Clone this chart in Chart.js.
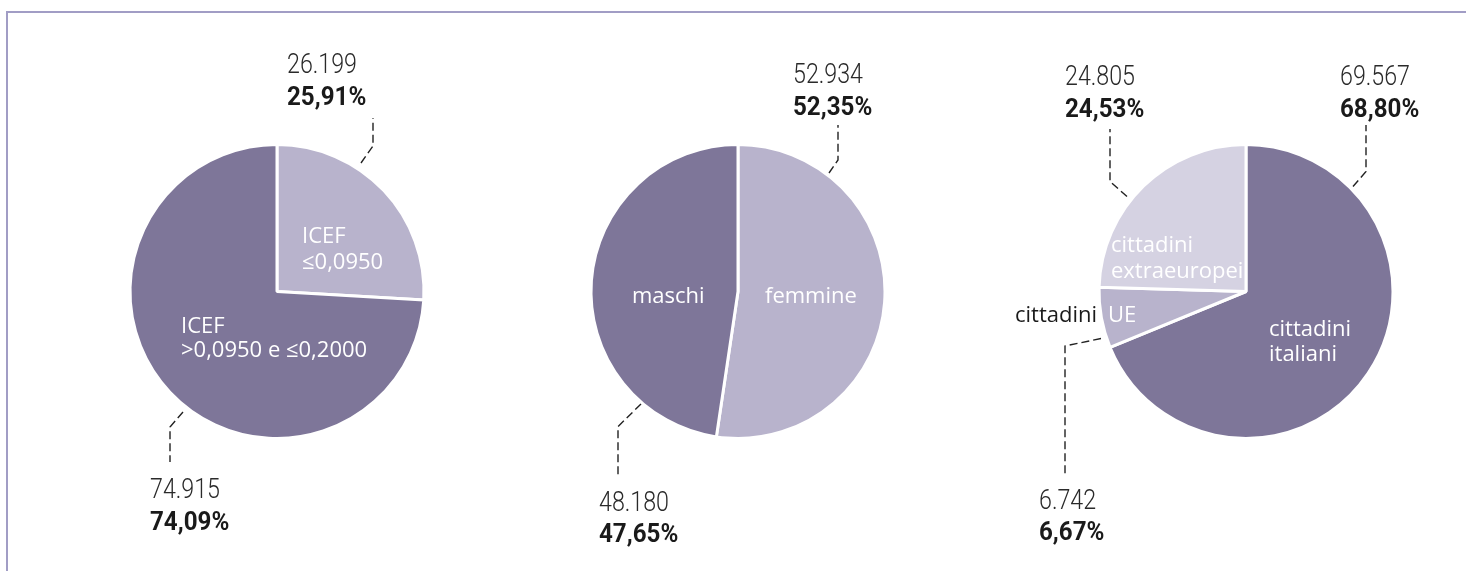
<!DOCTYPE html>
<html>
<head>
<meta charset="utf-8">
<script src="https://cdn.jsdelivr.net/npm/chart.js@4.4.1/dist/chart.umd.min.js"></script>
<style>
  html, body { margin: 0; padding: 0; background: #fff; }
  body { width: 1466px; height: 571px; position: relative; overflow: hidden; }
  #frame { position: absolute; left: 6px; top: 11px; width: 1470px; height: 570px;
           border-top: 2px solid #a19dc5; border-left: 2px solid #a19dc5; }
  .box { position: absolute; top: 0; width: 500px; height: 571px; }
</style>
</head>
<body>
<div id="frame"></div>
<div class="box" id="b1"><canvas id="c1"></canvas></div>
<div class="box" id="b2"><canvas id="c2"></canvas></div>
<div class="box" id="b3"><canvas id="c3"></canvas></div>
<script>
// ---- data ----
const icefCategories = ['ICEF ≤0,0950', 'ICEF >0,0950 e ≤0,2000'];
const icefValues = [26199, 74915];

const sessoCategories = ['femmine', 'maschi'];
const sessoValues = [52934, 48180];

const cittCategories = ['cittadini italiani', 'cittadini UE', 'cittadini extraeuropei'];
const cittValues = [69567, 6742, 24805];

// ---- styles ----
const DARK = '#7e7699', MID = '#b8b3cc', LIGHT = '#d5d2e2';
const R = 147, BW = 3, BOXW = 500, H = 571, CY = 291.5;
const numFont = 'Roboto, "Liberation Sans", sans-serif';
const inFont = '"Open Sans", "Noto Sans", sans-serif';

function fmtInt(v) { return String(v).replace(/\B(?=(\d{3})+(?!\d))/g, '.'); }
function fmtPct(v, tot) { return (v / tot * 100).toFixed(2).replace('.', ',') + '%'; }

// annotation layout per slice (offsets relative to pie centre)
const charts = [
  { id: 'c1', box: 'b1', cx: 277, labels: icefCategories, values: icefValues, colors: [MID, DARK],
    notes: [
      { leader: [[84,-128.5],[96,-145.5],[96,-173.5]], tx: 10, ty: -218.5, gap: 32,
        inner: [{ t: 'ICEF', x: 25, y: -48.5 }, { t: '≤0,0950', x: 25, y: -23 }] },
      { leader: [[-94,120.5],[-107,135.5],[-107,170.5]], tx: -127, ty: 206.5, gap: 32,
        inner: [{ t: 'ICEF', x: -96, y: 41 }, { t: '>0,0950 e ≤0,2000', x: -96, y: 65.5 }] }
    ] },
  { id: 'c2', box: 'b2', cx: 738, labels: sessoCategories, values: sessoValues, colors: [MID, DARK],
    notes: [
      { leader: [[91,-118.5],[100,-131.5],[100,-166.5]], tx: 55, ty: -208.5, gap: 31.5,
        inner: [{ t: 'femmine', x: 27, y: 11.5 }] },
      { leader: [[-97,112.5],[-120,135],[-120,183.5]], tx: -139, ty: 219, gap: 31,
        inner: [{ t: 'maschi', x: -106, y: 11.5 }] }
    ] },
  { id: 'c3', box: 'b3', cx: 1246, labels: cittCategories, values: cittValues, colors: [DARK, MID, LIGHT],
    notes: [
      { leader: [[107,-105],[120,-120],[120,-166.5]], tx: 94, ty: -207, gap: 32.5,
        inner: [{ t: 'cittadini', x: 23, y: 44 }, { t: 'italiani', x: 23, y: 69 }] },
      { leader: [[-145,47],[-181,54.5],[-181,182.5]], tx: -207, ty: 217, gap: 31.5,
        inner: [{ t: 'UE', x: -138, y: 30 }, { t: 'cittadini', x: -231, y: 30, color: '#1a1a1a' }] },
      { leader: [[-119,-95],[-136,-110],[-136,-162.5]], tx: -181, ty: -207, gap: 32.5,
        inner: [{ t: 'cittadini', x: -135, y: -40 }, { t: 'extraeuropei', x: -135, y: -14 }] }
    ] }
];

function condensedText(ctx, text, x, y, sx) {
  ctx.save();
  ctx.translate(x, y);
  ctx.scale(sx, 1);
  ctx.fillText(text, 0, 0);
  ctx.restore();
}

const annotPlugin = {
  id: 'annot',
  afterDraw(chart, args, opts) {
    const ctx = chart.ctx;
    const meta = chart.getDatasetMeta(0);
    const arc0 = meta.data[0];
    const cx = arc0.x, cy = arc0.y;
    const vals = chart.data.datasets[0].data;
    const tot = vals.reduce((a, b) => a + b, 0);
    opts.notes.forEach((n, i) => {
      // leader line
      ctx.save();
      ctx.strokeStyle = '#222';
      ctx.lineWidth = 1.4;
      ctx.setLineDash([8, 4]);
      ctx.beginPath();
      n.leader.forEach((p, k) => {
        if (k === 0) ctx.moveTo(cx + p[0], cy + p[1]); else ctx.lineTo(cx + p[0], cy + p[1]);
      });
      ctx.stroke();
      ctx.restore();
      // value + percent
      ctx.save();
      ctx.textAlign = 'left';
      ctx.textBaseline = 'alphabetic';
      ctx.fillStyle = '#2a2a2a';
      ctx.font = '300 28px ' + numFont;
      condensedText(ctx, fmtInt(vals[i]), cx + n.tx, cy + n.ty, 0.83);
      ctx.fillStyle = '#1a1a1a';
      ctx.font = 'bold 26px ' + numFont;
      condensedText(ctx, fmtPct(vals[i], tot), cx + n.tx, cy + n.ty + n.gap, 0.93);
      // in-slice labels
      ctx.font = '22px ' + inFont;
      n.inner.forEach(l => {
        ctx.fillStyle = l.color || '#ffffff';
        ctx.fillText(l.t, cx + l.x, cy + l.y);
      });
      ctx.restore();
    });
  }
};

charts.forEach(c => {
  const box = document.getElementById(c.box);
  box.style.left = (c.cx - BOXW / 2) + 'px';
  const side = (BOXW - (2 * R + BW)) / 2;
  const top = CY - R - BW / 2;
  const bottom = H - top - (2 * R + BW);
  new Chart(document.getElementById(c.id), {
    type: 'pie',
    data: {
      labels: c.labels,
      datasets: [{ data: c.values, backgroundColor: c.colors, borderColor: '#ffffff', borderWidth: BW }]
    },
    options: {
      responsive: true,
      maintainAspectRatio: false,
      animation: false,
      layout: { padding: { left: side, right: side, top: top, bottom: bottom } },
      plugins: { legend: { display: false }, tooltip: { enabled: false }, annot: { notes: c.notes } }
    },
    plugins: [annotPlugin]
  });
});
</script>
</body>
</html>
